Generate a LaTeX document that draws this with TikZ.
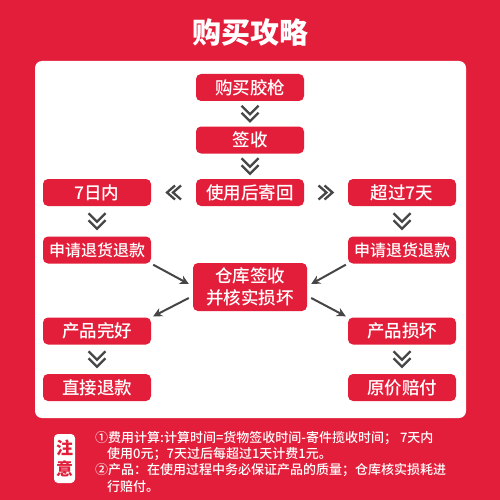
\documentclass[tikz,border=0pt]{standalone}
\usepackage{fontspec}
\setmainfont{Noto Sans CJK SC}
\newfontfamily\medf{Noto Sans CJK SC Medium}
\newfontfamily\blackf{Noto Sans CJK SC Black}
\usetikzlibrary{arrows.meta,calc}
\definecolor{bgred}{RGB}{227,30,58}
\definecolor{chev}{RGB}{70,70,70}
\tikzset{
  box/.style={fill=bgred,rounded corners=5pt,minimum width=108pt,minimum height=27pt,inner sep=0pt,text=white,font=\medf\fontsize{17.5}{18}\selectfont},
  arr/.style={chev,line width=2pt,-{Stealth[length=9pt,width=9pt]}},
  chv/.style={chev,line width=2.3pt,miter limit=10},
  note/.style={text=white,inner sep=0pt,anchor=west,font=\medf\fontsize{13}{14}\selectfont}
}
\newcommand{\chevdown}[1]{%
  \draw[chv] ($(#1)+(-8.5,-8)$) -- ($(#1)+(0,0.5)$) -- ($(#1)+(8.5,-8)$);
  \draw[chv] ($(#1)+(-8.5,-1)$) -- ($(#1)+(0,7.5)$) -- ($(#1)+(8.5,-1)$);}
\newcommand{\chevleft}[1]{%
  \draw[chv] ($(#1)+(1.5,-7)$) -- ($(#1)+(-6.5,0)$) -- ($(#1)+(1.5,7)$);
  \draw[chv] ($(#1)+(7.5,-7)$) -- ($(#1)+(-0.5,0)$) -- ($(#1)+(7.5,7)$);}
\newcommand{\chevright}[1]{%
  \draw[chv] ($(#1)+(-1.5,-7)$) -- ($(#1)+(6.5,0)$) -- ($(#1)+(-1.5,7)$);
  \draw[chv] ($(#1)+(-7.5,-7)$) -- ($(#1)+(0.5,0)$) -- ($(#1)+(-7.5,7)$);}
\begin{document}
\begin{tikzpicture}[x=1pt,y=-1pt]
\fill[bgred] (0,0) rectangle (500,500);
\useasboundingbox (0,0) rectangle (500,500);
\node[text=white,font=\blackf\fontsize{29}{30}\selectfont] (title) at (250,32) {购买攻略};
\fill[white,rounded corners=7pt] (35,61) rectangle (466,418);
% nodes
\node[box] (buy) at (250,87.5) {购买胶枪};
\node[box] (sign) at (250,140) {签收};
\node[box] (use) at (250,192.5) {使用后寄回};
\node[box] (in7) at (97,192.5) {7日内};
\node[box] (over7) at (402,192.5) {超过7天};
\node[box,font=\medf\fontsize{16}{17}\selectfont] (applyL) at (97,250) {申请退货退款};
\node[box,font=\medf\fontsize{16}{17}\selectfont] (applyR) at (402,250) {申请退货退款};
\node[box,minimum width=114pt,minimum height=48pt,align=center,font=\medf\fontsize{17.5}{22}\selectfont] (wh) at (250,287) {仓库签收\\并核实损坏};
\node[box] (good) at (97,331) {产品完好};
\node[box] (direct) at (97,387.5) {直接退款};
\node[box] (bad) at (402,331) {产品损坏};
\node[box] (pay) at (402,387.5) {原价赔付};
% chevrons
\chevdown{$(buy.south)!0.5!(sign.north)$}
\chevdown{$(sign.south)!0.5!(use.north)$}
\chevdown{$(in7.south)!0.5!(applyL.north)$}
\chevdown{$(over7.south)!0.5!(applyR.north)$}
\chevdown{$(good.south)!0.5!(direct.north)$}
\chevdown{$(bad.south)!0.5!(pay.north)$}
\chevleft{$(in7.east)!0.5!(use.west)$}
\chevright{$(use.east)!0.5!(over7.west)$}
% arrows
\draw[arr] ($(applyL.south east)+(2,1)$) -- ($(wh.west)+(-4,-3)$);
\draw[arr] ($(applyR.south west)+(-2,1)$) -- ($(wh.east)+(4,-3)$);
\draw[arr] ($(wh.west)+(-4,11)$) -- ($(good.north east)+(2,-1)$);
\draw[arr] ($(wh.east)+(4,11)$) -- ($(bad.north west)+(-2,-1)$);
% notice
\node[fill=white,rounded corners=4pt,minimum width=21pt,minimum height=49pt,inner sep=0pt,align=center,text=bgred,font=\bfseries\fontsize{17}{21}\selectfont] (badge) at (64.5,458.5) {注\\意};
\node[note] (n1) at (95,438) {①费用计算:计算时间=货物签收时间-寄件揽收时间；\ 7天内};
\node[note] (n2) at (107,454) {使用0元；7天过后每超过1天计费1元。};
\node[note] (n3) at (95,470.5) {②产品：在使用过程中务必保证产品的质量；仓库核实损耗进};
\node[note] (n4) at (107,487) {行赔付。};
\end{tikzpicture}
\end{document}
